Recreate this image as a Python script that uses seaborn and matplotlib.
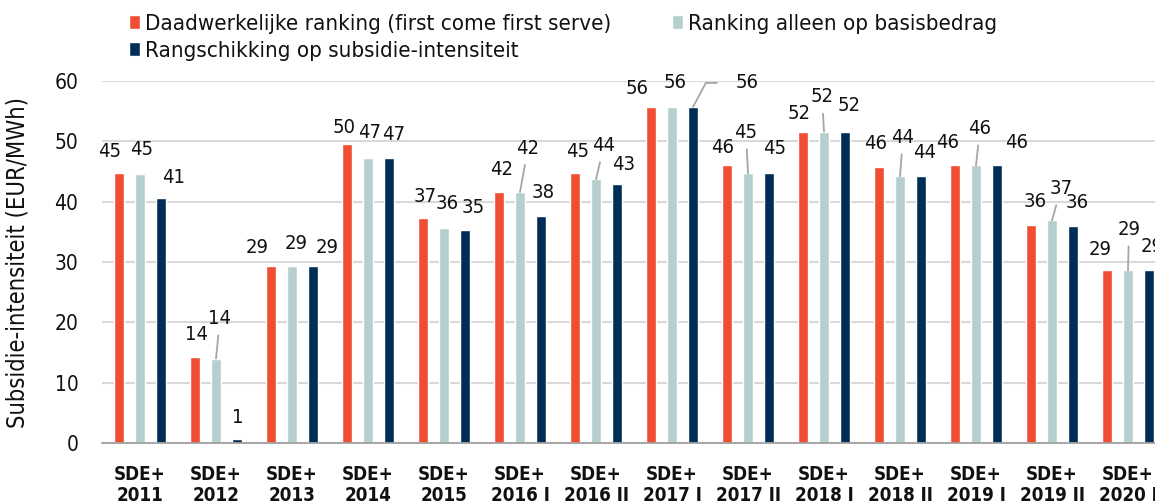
import matplotlib
matplotlib.use("Agg")
import matplotlib.pyplot as plt
import seaborn as sns
import pandas as pd

# --- data -------------------------------------------------------------------
periods = ["SDE+\n2011", "SDE+\n2012", "SDE+\n2013", "SDE+\n2014", "SDE+\n2015",
           "SDE+\n2016 I", "SDE+\n2016 II", "SDE+\n2017 I", "SDE+\n2017 II",
           "SDE+\n2018 I", "SDE+\n2018 II", "SDE+\n2019 I", "SDE+\n2019 II",
           "SDE+\n2020 I"]
series_names = ["Daadwerkelijke ranking (first come first serve)",
                "Ranking alleen op basisbedrag",
                "Rangschikking op subsidie-intensiteit"]
daadwerkelijk = [44.7, 14.3, 29.3, 49.6, 37.3, 41.6, 44.7, 55.7, 46.0, 51.6, 45.7, 46.0, 36.2, 28.6]
basisbedrag = [44.6, 14.0, 29.3, 47.3, 35.6, 41.6, 43.7, 55.7, 44.7, 51.6, 44.2, 46.0, 36.9, 28.6]
intensiteit = [40.6, 0.6, 29.3, 47.3, 35.3, 37.6, 43.0, 55.7, 44.7, 51.6, 44.2, 46.0, 35.9, 28.6]
y_ticks = [0, 10, 20, 30, 40, 50, 60]

# --- styling ----------------------------------------------------------------
colors = ["#F04E33", "#B5CFCE", "#002D56"]

# data-label offsets from each bar top (pixels)
label_offsets = [
    [(-9, 22), (2, 22), (-14, 19), (-3, 16), (2, 21), (3, 23), (3, 22),
     (-14, 18), (-4, 18), (-4, 18), (-3, 24), (-7, 23), (4, 23), (-7, 21)],
    [(2, 24), (4, 40), (4, 23), (2, 25), (3, 25), (8, 44), (8, 34),
     (3, 24), (-2, 41), (-2, 35), (3, 39), (4, 37), (9, 32), (1, 41)],
    [(13, 21), (1, 22), (14, 19), (5, 23), (8, 23), (2, 24), (7, 19),
     (54, 24), (6, 25), (4, 26), (4, 24), (20, 23), (4, 24), (3, 24)],
]
# leader lines: None, "straight" or "bent"
leaders = [
    [None] * 14,
    [None, "straight", None, None, None, "straight", "straight", None,
     "straight", "straight", "straight", "straight", "straight", "straight"],
    [None] * 7 + ["bent"] + [None] * 6,
]

sns.set_style("white")
plt.rcParams["font.family"] = ["DejaVu Sans"]
plt.rcParams["font.stretch"] = "condensed"

df = pd.DataFrame({
    "periode": periods * 3,
    "reeks": [series_names[0]] * 14 + [series_names[1]] * 14 + [series_names[2]] * 14,
    "waarde": daadwerkelijk + basisbedrag + intensiteit,
})

fig = plt.figure(figsize=(11.55, 5.04), dpi=100)
ax = fig.add_axes([102 / 1155, 61 / 504, 1064 / 1155, 362 / 504])

sns.barplot(data=df, x="periode", y="waarde", hue="reeks", order=periods,
            hue_order=series_names, palette=colors, saturation=1,
            width=0.83, gap=0.5, legend=False, ax=ax)

ax.set_xlim(-0.5, 13.5)
ax.set_ylim(0, 60)
ax.set_yticks(y_ticks)
ax.set_yticklabels([str(t) for t in y_ticks])
ax.yaxis.grid(True, color="#D9D9D9", linewidth=1.5)
ax.set_axisbelow(True)

for side in ["left", "right", "top"]:
    ax.spines[side].set_visible(False)
ax.spines["bottom"].set_color("#A0A0A0")
ax.spines["bottom"].set_linewidth(1.3)

ax.tick_params(axis="y", length=0, pad=17, labelsize=15, labelcolor="#111111")
ax.tick_params(axis="x", which="major", length=0, pad=16, labelsize=13.5,
               labelcolor="#111111")
ax.set_xticks([i - 0.5 for i in range(15)], minor=True)
ax.tick_params(axis="x", which="minor", direction="in", length=3.8, width=1.3,
               color="#A0A0A0")
for lbl in ax.get_xticklabels():
    lbl.set_fontweight("bold")
    lbl.set_linespacing(1.15)

ax.set_xlabel("")
ax.set_ylabel("Subsidie-intensiteit (EUR/MWh)", fontsize=17, color="#111111")
ax.yaxis.set_label_coords(-72 / 1064, 0.5)

# value labels
for s, container in enumerate(ax.containers):
    for i, bar in enumerate(container):
        x = bar.get_x() + bar.get_width() / 2
        v = bar.get_height()
        dx, dy = label_offsets[s][i]
        kind = leaders[s][i]
        arrow = None
        if kind == "straight":
            arrow = dict(arrowstyle="-", color="#A6A6A6", lw=1.3,
                         shrinkA=3, shrinkB=0)
        elif kind == "bent":
            arrow = dict(arrowstyle="-", color="#A6A6A6", lw=1.3,
                         shrinkA=11, shrinkB=0,
                         connectionstyle="angle,angleA=0,angleB=62,rad=0")
        ax.annotate(f"{v:.0f}", xy=(x, v), xytext=(dx, dy),
                    textcoords="offset pixels", ha="center", va="center",
                    fontsize=14.5, color="#111111", arrowprops=arrow,
                    annotation_clip=False)

# legend: first two series stacked in column one, third in column two
handles = [ax.containers[0], ax.containers[2], ax.containers[1]]
labels = [series_names[0], series_names[2], series_names[1]]
fig.legend(handles, labels, loc="upper left", bbox_to_anchor=(129 / 1155, 1 - 14 / 504),
           ncol=2, frameon=False, fontsize=16, borderpad=0, borderaxespad=0,
           handlelength=0.5, handleheight=0.63, handletextpad=0.22,
           labelspacing=0.3, columnspacing=2.75, labelcolor="#111111")

fig.savefig("out.png", dpi=100)
